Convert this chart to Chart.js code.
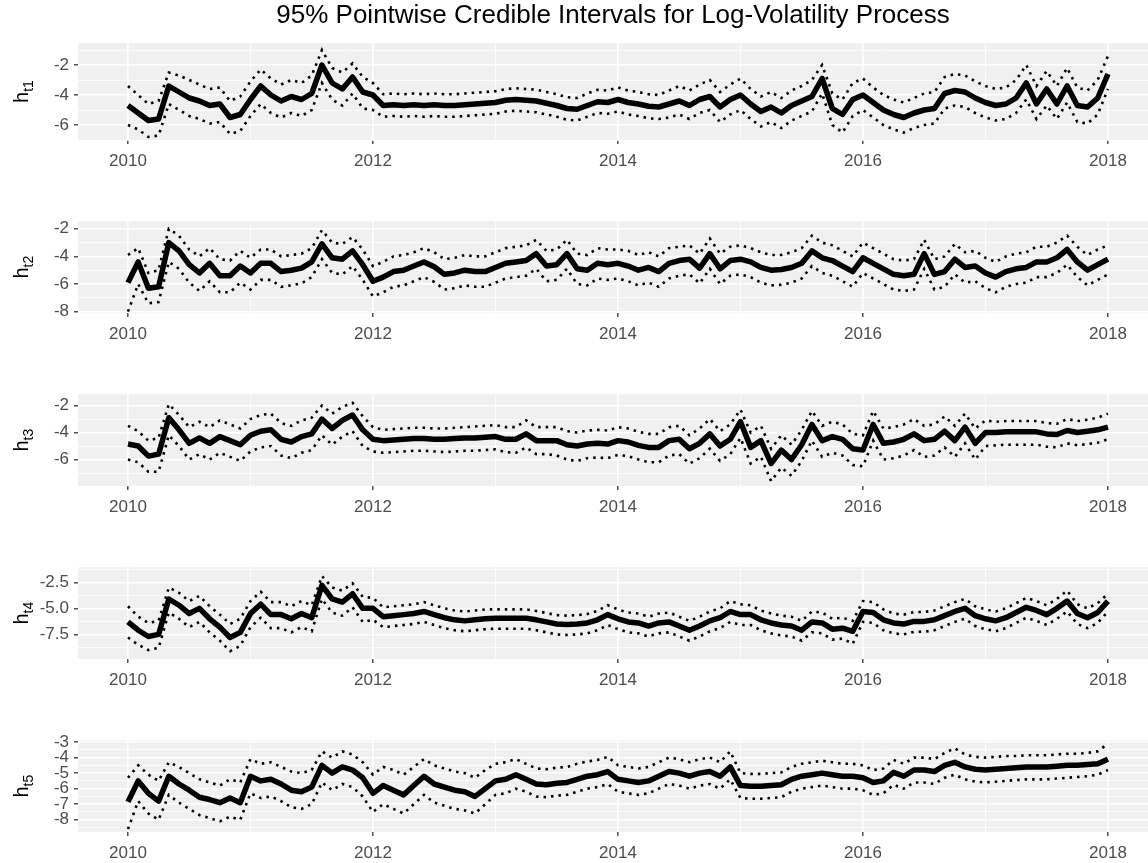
<!DOCTYPE html>
<html><head><meta charset="utf-8">
<script src="https://cdn.jsdelivr.net/npm/chart.js@4.4.1/dist/chart.umd.min.js"></script>
<style>
html,body{margin:0;padding:0;background:#fff;width:1148px;height:863px;overflow:hidden;position:relative;}
canvas{position:absolute;left:0;}
</style></head><body>
<canvas id="c1"></canvas><canvas id="c2"></canvas><canvas id="c3"></canvas><canvas id="c4"></canvas><canvas id="c5"></canvas>
<script>
// monthly time grid (decimal years), Jan 2010 .. Jan 2018
const months = Array.from({length: 97}, (_, i) => 2010 + i / 12);
const xTicks = [2010, 2011, 2012, 2013, 2014, 2015, 2016, 2017, 2018];
const xTickLabels = ['2010', '', '2012', '', '2014', '', '2016', '', '2018'];
const chartTitle = '95% Pointwise Credible Intervals for Log-Volatility Process';

// h_t1
const m1 = [-4.7,-5.2,-5.7,-5.6,-3.4,-3.8,-4.2,-4.4,-4.7,-4.6,-5.5,-5.3,
 -4.3,-3.4,-4.0,-4.4,-4.1,-4.3,-3.9,-2.0,-3.2,-3.6,-2.8,-3.8,
 -4.0,-4.7,-4.65,-4.7,-4.65,-4.7,-4.65,-4.7,-4.7,-4.65,-4.6,-4.55,
 -4.5,-4.35,-4.3,-4.35,-4.4,-4.55,-4.7,-4.9,-4.95,-4.7,-4.45,-4.5,
 -4.3,-4.5,-4.6,-4.75,-4.8,-4.6,-4.4,-4.7,-4.3,-4.1,-4.8,-4.3,
 -4.0,-4.6,-5.1,-4.8,-5.2,-4.7,-4.4,-4.1,-2.9,-4.9,-5.3,-4.3,
 -4.0,-4.5,-5.0,-5.3,-5.5,-5.2,-5.0,-4.9,-3.9,-3.7,-3.8,-4.2,
 -4.5,-4.7,-4.6,-4.2,-3.2,-4.6,-3.6,-4.6,-3.4,-4.7,-4.8,-4.2,
 -2.6];
const u1 = [-3.4,-4.0,-4.6,-4.4,-2.5,-2.7,-3.0,-3.3,-3.6,-3.5,-4.4,-4.1,
 -3.1,-2.3,-2.9,-3.3,-3.0,-3.2,-2.7,-1.0,-2.2,-2.5,-1.9,-2.8,
 -3.2,-3.95,-3.9,-3.95,-3.9,-3.95,-3.9,-3.95,-3.95,-3.9,-3.85,-3.8,
 -3.75,-3.6,-3.55,-3.6,-3.65,-3.8,-3.95,-4.15,-4.2,-3.9,-3.65,-3.7,
 -3.5,-3.7,-3.8,-3.95,-4.0,-3.7,-3.4,-3.7,-3.3,-3.0,-3.8,-3.3,
 -2.9,-3.6,-4.1,-3.8,-4.2,-3.7,-3.4,-3.0,-2.0,-3.9,-4.3,-3.2,
 -2.9,-3.5,-4.0,-4.3,-4.5,-4.2,-3.9,-3.8,-2.8,-2.6,-2.7,-3.1,
 -3.4,-3.6,-3.5,-3.0,-2.0,-3.4,-2.4,-3.4,-2.2,-3.5,-3.7,-3.0,
 -1.4];
const l1 = [-6.0,-6.3,-6.8,-6.7,-4.6,-5.0,-5.4,-5.6,-5.9,-5.8,-6.6,-6.4,
 -5.4,-4.6,-5.2,-5.5,-5.2,-5.4,-5.0,-3.2,-4.3,-4.7,-3.9,-4.9,
 -5.0,-5.45,-5.4,-5.45,-5.4,-5.45,-5.4,-5.45,-5.45,-5.4,-5.35,-5.3,
 -5.25,-5.1,-5.05,-5.1,-5.15,-5.3,-5.45,-5.65,-5.7,-5.45,-5.2,-5.25,
 -5.1,-5.3,-5.4,-5.55,-5.6,-5.5,-5.3,-5.6,-5.2,-5.0,-5.8,-5.3,
 -5.0,-5.6,-6.1,-5.8,-6.2,-5.7,-5.4,-5.1,-3.9,-6.0,-6.5,-5.4,
 -5.0,-5.5,-6.0,-6.3,-6.5,-6.2,-6.0,-5.9,-4.9,-4.7,-4.8,-5.2,
 -5.5,-5.7,-5.6,-5.2,-4.3,-5.6,-4.7,-5.6,-4.5,-5.8,-5.9,-5.3,
 -3.6];

// h_t2
const m2 = [-5.9,-4.4,-6.3,-6.2,-3.0,-3.6,-4.6,-5.2,-4.5,-5.4,-5.4,-4.7,
 -5.2,-4.5,-4.5,-5.1,-5.0,-4.85,-4.4,-3.1,-4.1,-4.2,-3.6,-4.6,
 -5.8,-5.5,-5.1,-5.0,-4.7,-4.4,-4.75,-5.3,-5.2,-5.0,-5.1,-5.1,
 -4.8,-4.5,-4.4,-4.3,-3.8,-4.7,-4.6,-3.8,-4.9,-5.0,-4.5,-4.6,
 -4.5,-4.7,-5.0,-4.8,-5.1,-4.5,-4.3,-4.2,-4.85,-3.8,-4.9,-4.3,
 -4.2,-4.4,-4.8,-5.0,-4.95,-4.8,-4.5,-3.6,-4.1,-4.3,-4.7,-5.1,
 -4.1,-4.5,-4.9,-5.3,-5.4,-5.3,-3.8,-5.3,-5.1,-4.2,-4.8,-4.7,
 -5.2,-5.5,-5.1,-4.9,-4.8,-4.4,-4.4,-4.1,-3.5,-4.4,-5.0,-4.6,
 -4.2];
const u2 = [-3.9,-3.4,-5.2,-5.0,-2.0,-2.5,-3.5,-4.0,-3.4,-4.2,-4.3,-3.6,
 -4.1,-3.5,-3.5,-4.0,-3.9,-3.8,-3.4,-2.1,-3.0,-3.1,-2.6,-3.5,
 -4.7,-4.4,-4.0,-3.9,-3.7,-3.4,-3.7,-4.2,-4.1,-3.9,-4.0,-4.0,
 -3.7,-3.4,-3.3,-3.2,-2.8,-3.6,-3.5,-2.8,-3.8,-3.9,-3.4,-3.5,
 -3.5,-3.6,-3.9,-3.7,-4.0,-3.4,-3.3,-3.2,-3.8,-2.7,-3.8,-3.3,
 -3.2,-3.4,-3.7,-3.9,-3.9,-3.7,-3.4,-2.5,-3.0,-3.2,-3.6,-4.0,
 -3.0,-3.4,-3.8,-4.2,-4.3,-4.2,-2.8,-4.2,-4.0,-3.1,-3.7,-3.6,
 -4.1,-4.4,-4.0,-3.8,-3.7,-3.3,-3.3,-3.0,-2.5,-3.3,-3.9,-3.5,
 -3.2];
const l2 = [-8.0,-6.0,-7.4,-7.3,-4.4,-4.9,-5.9,-6.5,-5.8,-6.6,-6.6,-5.9,
 -6.4,-5.7,-5.7,-6.2,-6.1,-5.95,-5.5,-4.2,-5.2,-5.3,-4.7,-5.7,
 -6.9,-6.6,-6.2,-6.1,-5.8,-5.5,-5.85,-6.4,-6.3,-6.1,-6.2,-6.2,
 -5.9,-5.6,-5.5,-5.4,-4.9,-5.8,-5.7,-4.9,-6.0,-6.1,-5.6,-5.7,
 -5.6,-5.8,-6.1,-5.9,-6.2,-5.6,-5.4,-5.3,-5.95,-4.9,-6.0,-5.4,
 -5.3,-5.5,-5.9,-6.1,-6.05,-5.9,-5.6,-4.7,-5.2,-5.4,-5.8,-6.2,
 -5.2,-5.6,-6.0,-6.4,-6.5,-6.4,-4.9,-6.4,-6.2,-5.3,-5.9,-5.8,
 -6.3,-6.6,-6.2,-6.0,-5.9,-5.5,-5.5,-5.2,-4.6,-5.5,-6.1,-5.7,
 -5.3];

// h_t3
const m3 = [-4.85,-5.0,-5.75,-5.6,-2.9,-3.8,-4.8,-4.4,-4.8,-4.3,-4.6,-4.9,
 -4.2,-3.9,-3.8,-4.5,-4.7,-4.3,-4.1,-3.0,-3.7,-3.1,-2.7,-3.8,
 -4.5,-4.6,-4.55,-4.5,-4.45,-4.45,-4.5,-4.5,-4.45,-4.4,-4.4,-4.35,
 -4.3,-4.5,-4.5,-4.1,-4.6,-4.6,-4.6,-4.9,-5.0,-4.85,-4.8,-4.85,
 -4.6,-4.7,-4.95,-5.1,-5.1,-4.6,-4.5,-5.2,-4.8,-4.1,-5.0,-4.5,
 -3.2,-5.1,-4.6,-6.3,-5.3,-6.0,-4.9,-3.4,-4.6,-4.3,-4.5,-5.2,
 -5.3,-3.4,-4.8,-4.7,-4.5,-4.1,-4.6,-4.5,-3.9,-4.6,-3.6,-4.8,
 -4.0,-4.0,-3.95,-3.95,-3.95,-3.95,-4.1,-4.15,-3.85,-4.0,-3.9,-3.8,
 -3.6];
const u3 = [-3.5,-3.9,-4.6,-4.4,-1.9,-2.7,-3.6,-3.2,-3.6,-3.1,-3.4,-3.7,
 -3.0,-2.7,-2.6,-3.3,-3.5,-3.1,-2.9,-2.0,-2.6,-2.1,-1.8,-2.8,
 -3.6,-3.8,-3.75,-3.7,-3.65,-3.65,-3.7,-3.7,-3.65,-3.6,-3.55,-3.5,
 -3.45,-3.6,-3.6,-3.1,-3.6,-3.6,-3.6,-3.9,-4.0,-3.85,-3.8,-3.85,
 -3.6,-3.7,-3.95,-4.1,-4.1,-3.6,-3.5,-4.2,-3.7,-3.0,-3.9,-3.4,
 -2.3,-4.0,-3.5,-5.2,-4.2,-4.9,-3.8,-2.4,-3.5,-3.2,-3.4,-4.1,
 -4.2,-2.4,-3.7,-3.6,-3.4,-3.0,-3.5,-3.4,-2.8,-3.5,-2.6,-3.7,
 -3.1,-3.2,-3.15,-3.15,-3.15,-3.15,-3.3,-3.35,-3.0,-3.15,-3.05,-2.9,
 -2.6];
const l3 = [-6.0,-6.2,-6.9,-6.9,-4.2,-5.0,-6.0,-5.6,-6.0,-5.5,-5.8,-6.1,
 -5.4,-5.1,-5.0,-5.7,-5.9,-5.5,-5.3,-4.2,-4.9,-4.3,-3.9,-5.0,
 -5.4,-5.5,-5.45,-5.4,-5.35,-5.35,-5.4,-5.45,-5.4,-5.35,-5.35,-5.3,
 -5.25,-5.45,-5.5,-5.1,-5.6,-5.6,-5.7,-6.0,-6.1,-5.9,-5.85,-5.9,
 -5.65,-5.75,-6.0,-6.2,-6.2,-5.7,-5.6,-6.3,-5.9,-5.2,-6.1,-5.6,
 -4.4,-6.3,-5.8,-7.6,-6.6,-7.2,-6.1,-4.6,-5.8,-5.5,-5.7,-6.4,
 -6.5,-4.6,-6.0,-5.9,-5.7,-5.3,-5.8,-5.7,-5.1,-5.8,-4.8,-6.0,
 -5.0,-4.95,-4.9,-4.9,-4.9,-4.9,-5.05,-5.1,-4.8,-4.95,-4.85,-4.75,
 -4.5];

// h_t4
const m4 = [-6.3,-7.1,-7.7,-7.5,-4.1,-4.7,-5.5,-5.0,-6.0,-6.8,-7.8,-7.3,
 -5.5,-4.6,-5.6,-5.6,-6.0,-5.5,-5.9,-2.8,-4.1,-4.4,-3.6,-5.0,
 -5.0,-5.8,-5.7,-5.6,-5.5,-5.3,-5.6,-5.9,-6.1,-6.2,-6.1,-6.0,
 -5.95,-5.95,-5.95,-5.95,-6.1,-6.3,-6.5,-6.55,-6.5,-6.4,-6.1,-5.6,
 -6.0,-6.3,-6.4,-6.7,-6.4,-6.3,-6.7,-7.1,-6.7,-6.2,-5.9,-5.3,
 -5.6,-5.6,-6.1,-6.4,-6.6,-6.7,-7.1,-6.3,-6.4,-7.0,-6.9,-7.2,
 -5.3,-5.4,-6.1,-6.4,-6.5,-6.25,-6.25,-6.1,-5.7,-5.3,-5.0,-5.7,
 -6.0,-6.2,-5.9,-5.4,-4.9,-5.2,-5.6,-5.0,-4.3,-5.5,-5.9,-5.4,
 -4.3];
const u4 = [-4.8,-5.8,-6.4,-6.2,-3.0,-3.5,-4.3,-3.8,-4.8,-5.6,-6.5,-6.0,
 -4.3,-3.4,-4.4,-4.4,-4.8,-4.3,-4.7,-1.9,-3.0,-3.3,-2.6,-3.9,
 -4.0,-4.9,-4.8,-4.7,-4.6,-4.4,-4.7,-5.0,-5.2,-5.3,-5.2,-5.1,
 -5.1,-5.1,-5.1,-5.1,-5.25,-5.45,-5.65,-5.7,-5.65,-5.55,-5.25,-4.7,
 -5.1,-5.4,-5.5,-5.8,-5.5,-5.4,-5.8,-6.2,-5.8,-5.3,-5.0,-4.3,
 -4.6,-4.7,-5.2,-5.5,-5.7,-5.8,-6.2,-5.3,-5.4,-6.0,-5.9,-6.2,
 -4.3,-4.4,-5.1,-5.5,-5.6,-5.35,-5.35,-5.2,-4.8,-4.4,-4.1,-4.8,
 -5.1,-5.3,-5.0,-4.5,-4.0,-4.3,-4.7,-4.1,-3.3,-4.6,-5.0,-4.5,
 -3.6];
const l4 = [-7.8,-8.5,-9.0,-8.8,-5.4,-6.0,-6.8,-6.3,-7.3,-8.1,-9.1,-8.6,
 -6.8,-5.9,-6.9,-6.9,-7.3,-6.8,-7.2,-4.1,-5.4,-5.7,-4.9,-6.3,
 -6.1,-6.8,-6.7,-6.6,-6.5,-6.3,-6.6,-6.9,-7.1,-7.2,-7.1,-7.0,
 -6.95,-6.95,-6.95,-6.95,-7.1,-7.3,-7.5,-7.55,-7.5,-7.4,-7.1,-6.6,
 -7.0,-7.3,-7.4,-7.7,-7.4,-7.3,-7.7,-8.1,-7.7,-7.2,-6.9,-6.3,
 -6.6,-6.6,-7.1,-7.4,-7.6,-7.7,-8.1,-7.3,-7.4,-8.0,-7.9,-8.4,
 -6.3,-6.4,-7.1,-7.4,-7.5,-7.25,-7.25,-7.1,-6.7,-6.3,-6.0,-6.7,
 -7.0,-7.2,-6.9,-6.4,-5.9,-6.2,-6.6,-6.0,-5.3,-6.5,-6.9,-6.4,
 -5.3];

// h_t5
const m5 = [-6.85,-5.5,-6.3,-6.8,-5.2,-5.7,-6.1,-6.55,-6.7,-6.9,-6.6,-6.9,
 -5.2,-5.5,-5.4,-5.7,-6.1,-6.2,-5.9,-4.5,-5.0,-4.6,-4.8,-5.3,
 -6.3,-5.8,-6.1,-6.4,-5.8,-5.2,-5.7,-5.9,-6.1,-6.2,-6.5,-6.0,
 -5.5,-5.4,-5.1,-5.4,-5.7,-5.75,-5.65,-5.6,-5.4,-5.2,-5.1,-4.9,
 -5.4,-5.5,-5.6,-5.5,-5.2,-4.9,-5.0,-5.2,-5.0,-4.9,-5.2,-4.6,
 -5.8,-5.85,-5.85,-5.8,-5.75,-5.4,-5.2,-5.1,-5.0,-5.1,-5.2,-5.2,
 -5.3,-5.6,-5.5,-4.95,-5.2,-4.8,-4.8,-4.9,-4.5,-4.3,-4.6,-4.75,
 -4.8,-4.75,-4.7,-4.65,-4.6,-4.6,-4.6,-4.55,-4.5,-4.5,-4.45,-4.4,
 -4.1];
const u5 = [-5.3,-4.5,-5.1,-5.5,-4.3,-4.6,-5.0,-5.4,-5.6,-5.8,-5.4,-5.6,
 -4.1,-4.4,-4.3,-4.6,-4.9,-5.0,-4.8,-3.6,-4.0,-3.6,-3.8,-4.3,
 -5.1,-4.6,-4.8,-5.1,-4.6,-4.1,-4.5,-4.7,-4.9,-5.0,-5.3,-4.8,
 -4.4,-4.3,-4.1,-4.4,-4.7,-4.75,-4.65,-4.6,-4.4,-4.25,-4.15,-3.95,
 -4.5,-4.6,-4.7,-4.6,-4.3,-4.0,-4.1,-4.3,-4.1,-4.0,-4.3,-3.6,
 -5.0,-5.05,-5.05,-5.0,-4.95,-4.6,-4.4,-4.3,-4.2,-4.3,-4.4,-4.4,
 -4.5,-4.8,-4.7,-4.15,-4.4,-4.0,-4.0,-4.1,-3.7,-3.4,-3.8,-3.95,
 -4.0,-3.95,-3.9,-3.9,-3.85,-3.85,-3.85,-3.8,-3.75,-3.75,-3.7,-3.6,
 -3.1];
const l5 = [-8.6,-6.8,-7.6,-8.0,-6.4,-6.9,-7.3,-7.7,-7.9,-8.1,-7.8,-8.0,
 -6.3,-6.6,-6.5,-6.8,-7.2,-7.3,-7.0,-5.6,-6.1,-5.7,-5.9,-6.5,
 -7.5,-7.0,-7.3,-7.6,-7.0,-6.4,-6.9,-7.1,-7.3,-7.4,-7.6,-7.0,
 -6.4,-6.3,-6.0,-6.2,-6.5,-6.55,-6.45,-6.4,-6.2,-6.0,-5.9,-5.7,
 -6.2,-6.3,-6.4,-6.3,-6.0,-5.7,-5.8,-6.0,-5.8,-5.7,-6.0,-5.4,
 -6.6,-6.65,-6.65,-6.6,-6.55,-6.2,-6.0,-5.9,-5.8,-5.9,-6.0,-6.0,
 -6.1,-6.4,-6.3,-5.75,-6.0,-5.6,-5.6,-5.7,-5.3,-5.1,-5.4,-5.55,
 -5.6,-5.55,-5.5,-5.45,-5.4,-5.4,-5.4,-5.35,-5.3,-5.25,-5.2,-5.1,
 -4.8];

// y tick values (major + minor) and labels
const yTicks1 = [-7,-6,-5,-4,-3,-2,-1];
const yLabels1 = ['','-6','','-4','','-2',''];
const yTicks2 = [-8,-7,-6,-5,-4,-3,-2];
const yLabels2 = ['-8','','-6','','-4','','-2'];
const yTicks3 = [-7,-6,-5,-4,-3,-2];
const yLabels3 = ['','-6','','-4','','-2'];
const yTicks4 = [-8.75,-7.5,-6.25,-5,-3.75,-2.5,-1.25];
const yLabels4 = ['','-7.5','','-5.0','','-2.5',''];
const yTicks5 = [-8.5,-8,-7.5,-7,-6.5,-6,-5.5,-5,-4.5,-4,-3.5,-3];
const yLabels5 = ['','-8','','-7','','-6','','-5','','-4','','-3'];

const FONT = '"Liberation Sans", Arial, Helvetica, sans-serif';
const PANEL_BG = '#F0F0F0';

const panels = [
  {id:'c1', sub:'t1', top:43,  bottom:140, min:-7.0,  max:-0.533, yt:yTicks1, yl:yLabels1, med:m1, up:u1, lo:l1, title:true},
  {id:'c2', sub:'t2', top:216, bottom:313, min:-8.1,  max:-1.45,  yt:yTicks2, yl:yLabels2, med:m2, up:u2, lo:l2},
  {id:'c3', sub:'t3', top:389, bottom:486, min:-7.96, max:-1.16,  yt:yTicks3, yl:yLabels3, med:m3, up:u3, lo:l3},
  {id:'c4', sub:'t4', top:562, bottom:659, min:-9.86, max:-1.05,  yt:yTicks4, yl:yLabels4, med:m4, up:u4, lo:l4},
  {id:'c5', sub:'t5', top:735, bottom:832, min:-8.79, max:-2.88,  yt:yTicks5, yl:yLabels5, med:m5, up:u5, lo:l5}
];

const bgPlugin = {
  id: 'panelBg',
  beforeDraw(chart) {
    const a = chart.chartArea, ctx = chart.ctx;
    ctx.save();
    ctx.fillStyle = PANEL_BG;
    ctx.fillRect(a.left, a.top, a.right - a.left, a.bottom - a.top);
    ctx.restore();
  }
};

const yTitlePlugin = {
  id: 'yTitle',
  afterDraw(chart, args, opts) {
    const ctx = chart.ctx;
    const a = chart.chartArea;
    ctx.save();
    ctx.translate(opts.x, (a.top + a.bottom) / 2 + opts.dy);
    ctx.rotate(-Math.PI / 2);
    ctx.fillStyle = '#000';
    ctx.textBaseline = 'alphabetic';
    ctx.textAlign = 'left';
    const big = '20px ' + FONT, small = '14px ' + FONT;
    ctx.font = big; const wh = ctx.measureText('h').width;
    ctx.font = small; const ws = ctx.measureText(opts.sub).width;
    const start = -(wh + ws) / 2;
    ctx.font = big; ctx.fillText('h', start, 0);
    ctx.font = small; ctx.fillText(opts.sub, start + wh, 5);
    ctx.restore();
  }
};

const XH = 36;
panels.forEach(p => {
  const cv = document.getElementById(p.id);
  const canvasTop = p.title ? 0 : p.top - 10;
  const h = p.bottom - canvasTop + XH;
  cv.width = 1148; cv.height = h;
  cv.style.top = canvasTop + 'px';
  cv.style.width = '1148px'; cv.style.height = h + 'px';
  const pts = arr => arr.map((v, i) => ({x: months[i], y: v}));
  const xMajor = i => xTickLabels[i] !== '';
  const yMajor = i => p.yl[i] !== '';
  new Chart(cv, {
    type: 'line',
    data: {
      datasets: [
        {data: pts(p.up), borderColor: '#000', borderWidth: 2.6, borderDash: [2.5, 5], pointRadius: 0, tension: 0},
        {data: pts(p.lo), borderColor: '#000', borderWidth: 2.6, borderDash: [2.5, 5], pointRadius: 0, tension: 0},
        {data: pts(p.med), borderColor: '#000', borderWidth: 5.5, pointRadius: 0, tension: 0, borderJoinStyle: 'round'}
      ]
    },
    options: {
      responsive: false, animation: false, events: [],
      layout: {padding: {top: p.title ? 0 : 10, left: 0, right: 0, bottom: 0}},
      plugins: {
        legend: {display: false}, tooltip: {enabled: false},
        title: {display: !!p.title, text: chartTitle, color: '#000', fullSize: false,
                font: {family: FONT, size: 26, weight: 'normal'}, padding: {top: 0, bottom: 11.8}},
        yTitle: {x: 28, dy: 0, sub: p.sub}
      },
      scales: {
        x: {
          type: 'linear', min: 2009.592, max: 2018.327,
          border: {display: false},
          afterBuildTicks: s => { s.ticks = xTicks.map(v => ({value: v})); },
          afterFit: s => { s.height = XH; },
          ticks: {autoSkip: false, maxRotation: 0, minRotation: 0, padding: 7, color: '#4D4D4D',
                  font: {family: FONT, size: 17}, callback: (v, i) => xTickLabels[i]},
          grid: {color: '#FFFFFF', lineWidth: c => xMajor(c.index) ? 1.6 : 0.8,
                 drawTicks: true, tickLength: 4,
                 tickColor: c => xMajor(c.index) ? '#333333' : 'rgba(0,0,0,0)', tickWidth: 1.3}
        },
        y: {
          type: 'linear', min: p.min, max: p.max,
          border: {display: false},
          afterBuildTicks: s => { s.ticks = p.yt.map(v => ({value: v})); },
          afterFit: s => { s.width = 78; },
          ticks: {autoSkip: false, padding: 5, color: '#4D4D4D',
                  font: {family: FONT, size: 17}, callback: (v, i) => p.yl[i]},
          grid: {color: '#FFFFFF', lineWidth: c => yMajor(c.index) ? 1.6 : 0.8,
                 drawTicks: true, tickLength: 4,
                 tickColor: c => yMajor(c.index) ? '#333333' : 'rgba(0,0,0,0)', tickWidth: 1.3}
        }
      }
    },
    plugins: [bgPlugin, yTitlePlugin]
  });
});
</script>
</body></html>
